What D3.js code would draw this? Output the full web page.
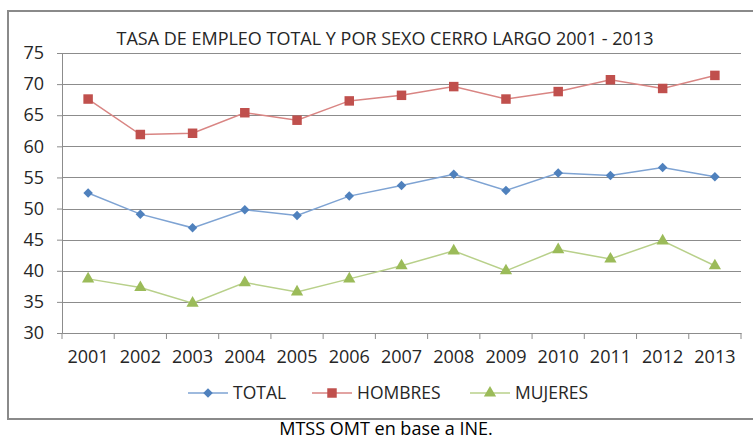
<!DOCTYPE html>
<html>
<head>
<meta charset="utf-8">
<script src="https://cdn.jsdelivr.net/npm/d3@7"></script>
<style>
  body { margin: 0; background: #fff; }
  text { font-family: "Open Sans", sans-serif; fill: #262626; }
</style>
</head>
<body>
<script>
var years = ["2001", "2002", "2003", "2004", "2005", "2006", "2007", "2008", "2009", "2010", "2011", "2012", "2013"];
var total = [52.5, 49.1, 46.9, 49.8, 48.9, 52.0, 53.7, 55.5, 52.9, 55.7, 55.3, 56.6, 55.1];
var hombres = [67.6, 61.9, 62.1, 65.4, 64.2, 67.3, 68.2, 69.6, 67.6, 68.8, 70.7, 69.3, 71.4];
var mujeres = [38.7, 37.3, 34.8, 38.1, 36.6, 38.7, 40.8, 43.2, 40.0, 43.4, 41.9, 44.8, 40.8];
var yTicks = [30, 35, 40, 45, 50, 55, 60, 65, 70, 75];

var series = [
  {name: "TOTAL", values: total, color: "#4F81BD", line: "#7ea3d3", symbol: d3.symbolSquare, size: 45, rot: 45},
  {name: "HOMBRES", values: hombres, color: "#C0504D", line: "#d98583", symbol: d3.symbolSquare, size: 90, rot: 0},
  {name: "MUJERES", values: mujeres, color: "#9BBB59", line: "#b8d08a", symbol: d3.symbolTriangle, size: 65, rot: 0}
];

var margin = {top: 53, right: 12, bottom: 107, left: 62},
    width = 753 - margin.left - margin.right,
    height = 440 - margin.top - margin.bottom;

var svgRoot = d3.select("body").append("svg")
    .attr("width", 753)
    .attr("height", 440);

// outer frame
svgRoot.append("rect")
    .attr("x", 8).attr("y", 11)
    .attr("width", 752).attr("height", 408)
    .attr("fill", "none")
    .attr("stroke", "#8a8a8a")
    .attr("stroke-width", 2);

svgRoot.append("text")
    .attr("x", 385)
    .attr("y", 45)
    .attr("text-anchor", "middle")
    .style("font-size", "18px")
    .text("TASA DE EMPLEO TOTAL Y POR SEXO CERRO LARGO 2001 - 2013");

var svg = svgRoot.append("g")
    .attr("transform", "translate(" + margin.left + "," + margin.top + ")");

var x = d3.scaleBand().domain(years).range([0, width]);
var y = d3.scaleLinear().domain([30, 75]).range([height, 0]);

// gridlines
svg.append("g")
    .selectAll("line")
    .data(yTicks.slice(1))
    .enter().append("line")
      .attr("x1", 0).attr("x2", width)
      .attr("y1", function(d) { return Math.round(y(d)) + 0.5; })
      .attr("y2", function(d) { return Math.round(y(d)) + 0.5; })
      .attr("stroke", "#8c8c8c")
      .attr("stroke-width", 1);

// y axis
var yAxis = svg.append("g")
    .call(d3.axisLeft(y).tickValues(yTicks).tickSize(5).tickPadding(13));
yAxis.selectAll("line").attr("stroke", "#8c8c8c");
yAxis.select(".domain").attr("stroke", "#8c8c8c");
yAxis.selectAll("text").style("font-size", "18px").attr("fill", "#262626")
    .style("font-family", "'Open Sans', sans-serif");

// x axis
var xAxis = svg.append("g")
    .attr("transform", "translate(0," + height + ")")
    .call(d3.axisBottom(x).tickSize(0).tickPadding(17));
xAxis.select(".domain").attr("stroke", "#8c8c8c");
xAxis.selectAll("text").style("font-size", "18px").attr("fill", "#262626")
    .style("font-family", "'Open Sans', sans-serif");
xAxis.selectAll(".sep")
    .data(years.concat(["end"]))
    .enter().append("line")
      .attr("class", "sep")
      .attr("x1", function(d, i) { return i * x.step(); })
      .attr("x2", function(d, i) { return i * x.step(); })
      .attr("y1", 0).attr("y2", 6)
      .attr("stroke", "#8c8c8c");

var line = d3.line()
    .x(function(d, i) { return x(years[i]) + x.bandwidth() / 2; })
    .y(function(d) { return y(d); });

series.forEach(function(s) {
  svg.append("path")
      .datum(s.values)
      .attr("fill", "none")
      .attr("stroke", s.line)
      .attr("stroke-width", 1.5)
      .attr("d", line);

  svg.selectAll(null)
      .data(s.values)
      .enter().append("path")
        .attr("d", d3.symbol().type(s.symbol).size(s.size))
        .attr("fill", s.color)
        .attr("transform", function(d, i) {
          return "translate(" + (x(years[i]) + x.bandwidth() / 2) + "," + y(d) + ") rotate(" + s.rot + ")";
        });
});

// legend
var legendX = [188, 312, 470];
var legend = svgRoot.append("g");
series.forEach(function(s, i) {
  var g = legend.append("g").attr("transform", "translate(" + legendX[i] + ",393)");
  g.append("line").attr("x1", 0).attr("x2", 40).attr("y1", 0).attr("y2", 0)
      .attr("stroke", s.line).attr("stroke-width", 1.5);
  g.append("path").attr("d", d3.symbol().type(s.symbol).size(s.size))
      .attr("fill", s.color).attr("transform", "translate(20,0) rotate(" + s.rot + ")");
  g.append("text").attr("x", 45).attr("y", 6)
      .style("font-size", "17.5px")
      .text(s.name);
});

svgRoot.append("text")
    .attr("x", 386)
    .attr("y", 435)
    .attr("text-anchor", "middle")
    .style("font-size", "18px")
    .style("fill", "#000")
    .text("MTSS OMT en base a INE.");
</script>
</body>
</html>
